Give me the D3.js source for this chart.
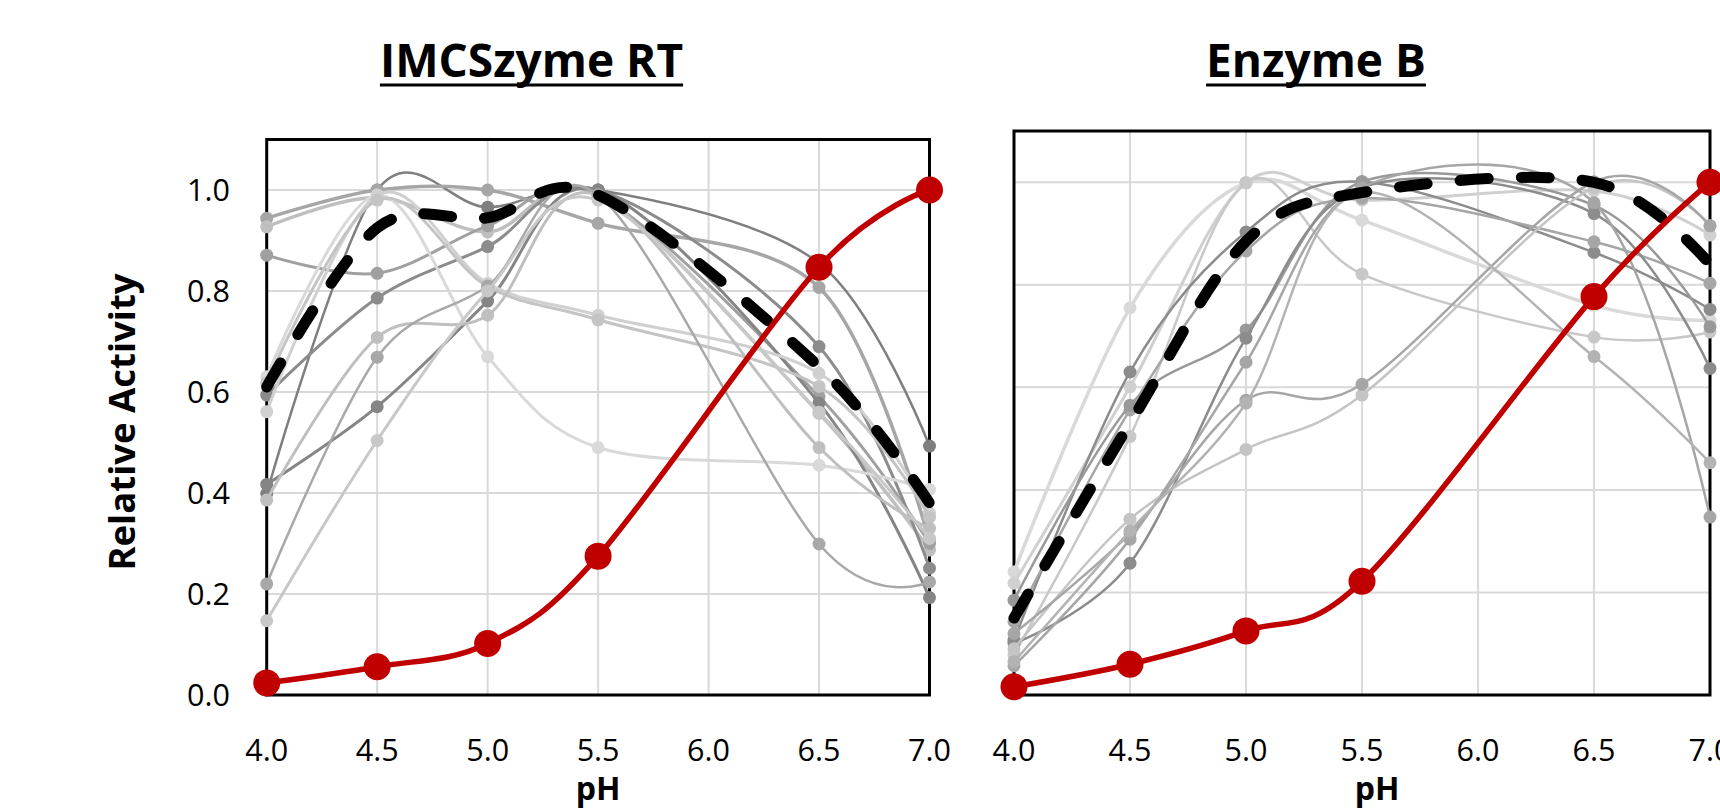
<!DOCTYPE html>
<html lang="en">
<head>
    <meta charset="UTF-8">
    <title>pH profile</title>
    <script src="https://cdn.jsdelivr.net/npm/d3@7"></script>
    <style>
        body { margin: 0; background: #fff; }
        text { font-family: 'Open Sans', sans-serif; fill: #000; }
    </style>
</head>
<body>
<script>
    // measured pH points (no 6.0 sample)
    const ph = [4.0, 4.5, 5.0, 5.5, 6.5, 7.0]
    const xTicks = [4.0, 4.5, 5.0, 5.5, 6.0, 6.5, 7.0]
    const yTicks = [0.0, 0.2, 0.4, 0.6, 0.8, 1.0]

    // IMCSzyme RT
    const rtTitle = 'IMCSzyme RT'
    const rtRed = [0.024, 0.056, 0.102, 0.275, 0.847, 1.0]
    const rtMean = [0.61, 0.925, 0.945, 0.99, 0.65, 0.38]
    const rtGray = [
        [0.399, 1.00, 0.966, 1.00, 0.855, 0.493],
        [0.944, 1.00, 1.00, 0.934, 0.807, 0.304],
        [0.927, 0.985, 0.917, 0.99, 0.558, 0.287],
        [0.871, 0.835, 0.929, 0.99, 0.591, 0.30],
        [0.594, 0.786, 0.888, 1.00, 0.690, 0.251],
        [0.417, 0.571, 0.780, 1.00, 0.578, 0.193],
        [0.630, 0.99, 0.670, 0.490, 0.455, 0.407],
        [0.561, 0.99, 0.815, 0.752, 0.637, 0.360],
        [0.618, 0.98, 0.809, 0.743, 0.611, 0.352],
        [0.386, 0.708, 0.752, 0.99, 0.490, 0.33],
        [0.220, 0.669, 0.81, 0.99, 0.299, 0.224],
        [0.147, 0.504, 0.80, 0.98, 0.56, 0.31]
    ]
    const rtShade = ['#7f7f7f', '#a6a6a6', '#bfbfbf', '#a0a0a0', '#8c8c8c', '#858585',
        '#d9d9d9', '#d0d0d0', '#c4c4c4', '#bfbfbf', '#a8a8a8', '#c8c8c8']
    const rtWidth = [2.5, 3.5, 3.5, 3, 3, 3, 3, 3, 3, 3, 2.5, 3]

    // Enzyme B
    const bTitle = 'Enzyme B'
    const bRed = [0.016, 0.060, 0.125, 0.222, 0.777, 1.0]
    const bMean = [0.15, 0.53, 0.885, 0.98, 1.0, 0.84]
    const bGray = [
        [0.240, 0.755, 0.999, 0.926, 0.76, 0.731],
        [0.218, 0.601, 0.999, 0.965, 0.983, 0.897],
        [0.078, 0.504, 0.999, 0.821, 0.698, 0.708],
        [0.107, 0.630, 0.903, 1.001, 0.863, 0.752],
        [0.143, 0.556, 0.866, 0.969, 0.884, 0.803],
        [0.185, 0.565, 0.712, 1.001, 0.955, 0.718],
        [0.101, 0.257, 0.696, 0.99, 0.939, 0.637],
        [0.057, 0.304, 0.649, 0.99, 0.96, 0.347],
        [0.09, 0.343, 0.479, 0.585, 0.99, 0.915],
        [0.12, 0.315, 0.575, 0.606, 1.001, 0.915],
        [0.065, 0.32, 0.569, 0.98, 0.660, 0.453]
    ]
    const bShade = ['#d9d9d9', '#d0d0d0', '#c8c8c8', '#8c8c8c', '#a6a6a6', '#999999',
        '#8c8c8c', '#a6a6a6', '#c4c4c4', '#a6a6a6', '#b3b3b3']
    const bWidth = [3.5, 3, 2.5, 2.5, 2.5, 2.5, 2.5, 2.5, 2.5, 2.5, 2.5]

    const [width, height] = [1720, 810]
    const svg = d3.select('body').append('svg')
        .attr('width', width)
        .attr('height', height)

    const drawPanel = (p, title, gray, shade, lw, mean, red) => {
        const x = d3.scaleLinear().domain([4, 7]).range([p.left, p.right])
        const y = d3.scaleLinear().domain([0, 1.1]).range([p.bottom, p.top])
        const g = svg.append('g')

        // grid
        g.selectAll('line.vgrid').data(xTicks.slice(1, -1)).enter().append('line')
            .attr('x1', d => x(d)).attr('x2', d => x(d))
            .attr('y1', y(0)).attr('y2', y(1.1))
            .attr('stroke', '#d9d9d9').attr('stroke-width', 2)
        g.selectAll('line.hgrid').data(yTicks.slice(1)).enter().append('line')
            .attr('x1', x(4)).attr('x2', x(7))
            .attr('y1', d => y(d)).attr('y2', d => y(d))
            .attr('stroke', '#d9d9d9').attr('stroke-width', 2)

        // frame
        g.append('rect')
            .attr('x', x(4)).attr('y', y(1.1))
            .attr('width', x(7) - x(4)).attr('height', y(0) - y(1.1))
            .attr('fill', 'none').attr('stroke', '#000').attr('stroke-width', 3)

        // x ticks
        g.selectAll('text.xt').data(xTicks).enter().append('text')
            .attr('x', d => x(d)).attr('y', 761)
            .attr('text-anchor', 'middle')
            .attr('font-size', 30.5)
            .text(d => d.toFixed(1))
        if (p.showY) {
            g.selectAll('text.yt').data(yTicks).enter().append('text')
                .attr('x', 230).attr('y', d => y(d) + 11)
                .attr('text-anchor', 'end')
                .attr('font-size', 30.5)
                .text(d => d.toFixed(1))
        }

        const line = d3.line()
            .x((d, i) => x(ph[i]))
            .y(d => y(d))
            .curve(d3.curveCardinal.tension(0))

        gray.forEach((s, k) => {
            g.append('path')
                .attr('d', line(s))
                .attr('fill', 'none')
                .attr('stroke', shade[k])
                .attr('stroke-width', lw[k])
            g.append('g').selectAll('circle').data(s).enter().append('circle')
                .attr('cx', (d, i) => x(ph[i]))
                .attr('cy', d => y(d))
                .attr('r', 6.5)
                .attr('fill', shade[k])
        })

        g.append('path')
            .attr('d', line(mean))
            .attr('fill', 'none')
            .attr('stroke', '#000')
            .attr('stroke-width', 11)
            .attr('stroke-linecap', 'round')
            .attr('stroke-dasharray', '28 33')

        g.append('path')
            .attr('d', line(red))
            .attr('fill', 'none')
            .attr('stroke', '#c00000')
            .attr('stroke-width', 5.5)
        g.append('g').selectAll('circle').data(red).enter().append('circle')
            .attr('cx', (d, i) => x(ph[i]))
            .attr('cy', d => y(d))
            .attr('r', 13.5)
            .attr('fill', '#c00000')

        // title with underline
        const t = svg.append('text')
            .attr('x', p.titleX).attr('y', 77)
            .attr('text-anchor', 'middle')
            .attr('font-size', 46)
            .attr('font-weight', 'bold')
            .text(title)
        const tw = t.node().getComputedTextLength()
        svg.append('line')
            .attr('x1', p.titleX - tw / 2).attr('x2', p.titleX + tw / 2)
            .attr('y1', 85).attr('y2', 85)
            .attr('stroke', '#000').attr('stroke-width', 3)

        svg.append('text')
            .attr('x', p.phX).attr('y', 800)
            .attr('text-anchor', 'middle')
            .attr('font-size', 32)
            .attr('font-weight', 'bold')
            .text('pH')
    }

    drawPanel({left: 266.7, right: 929.5, top: 139.5, bottom: 695, showY: true, titleX: 531.5, phX: 598},
        rtTitle, rtGray, rtShade, rtWidth, rtMean, rtRed)
    drawPanel({left: 1014, right: 1710, top: 131, bottom: 695, showY: false, titleX: 1316, phX: 1377},
        bTitle, bGray, bShade, bWidth, bMean, bRed)

    svg.append('text')
        .attr('transform', 'translate(135,422) rotate(-90)')
        .attr('text-anchor', 'middle')
        .attr('font-size', 36.5)
        .attr('font-weight', 'bold')
        .text('Relative Activity')
</script>
</body>
</html>
